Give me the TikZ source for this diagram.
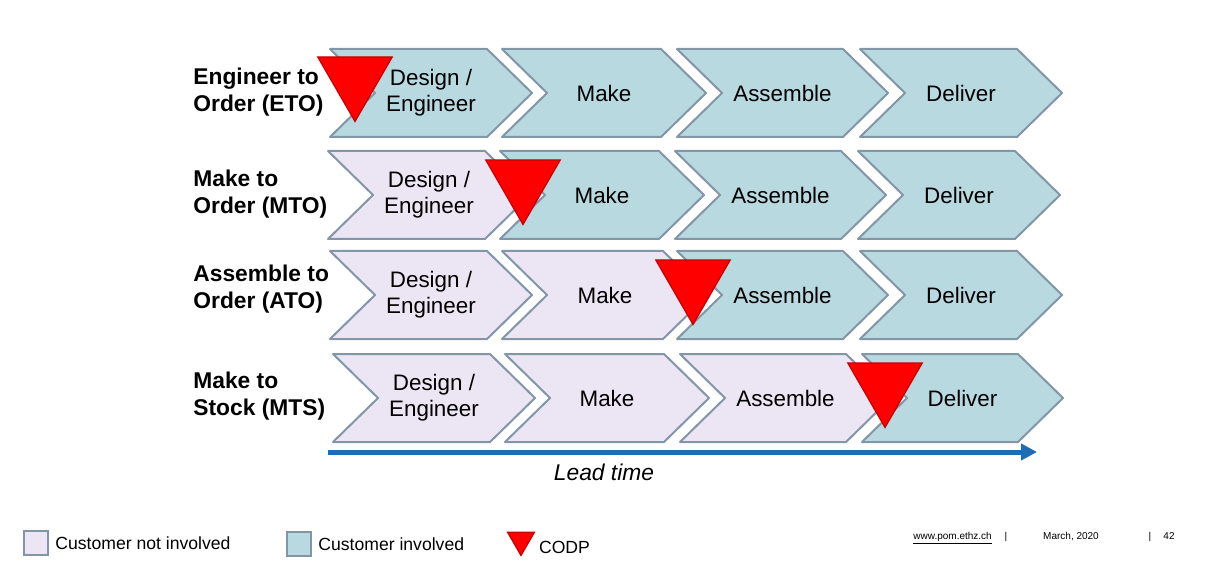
\documentclass[tikz,border=0pt]{standalone}
\usepackage{fontspec}
\setmainfont{Liberation Sans}
\usetikzlibrary{shapes.geometric, arrows.meta, positioning}
\definecolor{involvedblue}{RGB}{185,217,224}
\definecolor{notinvolved}{RGB}{235,229,244}
\definecolor{edgegray}{RGB}{130,150,168}
\definecolor{codpred}{RGB}{255,0,0}
\definecolor{codpedge}{RGB}{200,0,0}
\definecolor{leadblue}{RGB}{30,108,180}

% chevron: name, fill style, left x, middle y, width, text
\newcommand{\chevronstage}[6]{%
  \draw[#2] (#3,#4-44) -- ++(#5-45,0) -- ++(45,44) -- ++(-45,44) -- ++(-#5+45,0) -- ++(45,-44) -- cycle;
  \node[stagetext] (#1) at (#3+#5/2,#4) {#6};}

\begin{document}
\begin{tikzpicture}[x=0.5pt, y=-0.5pt,
    inv/.style={draw=edgegray, line width=1pt, line join=round, fill=involvedblue},
    notinv/.style={draw=edgegray, line width=1pt, line join=round, fill=notinvolved},
    stagetext/.style={inner sep=0pt, align=center, font=\fontsize{11.2}{13}\selectfont},
    codp/.style={regular polygon, regular polygon sides=3, shape border rotate=180,
                 fill=codpred, draw=codpedge, line width=0.6pt, minimum size=43pt, inner sep=0pt},
    strategy/.style={anchor=west, inner sep=0pt, align=left, font=\fontsize{11.4}{13.5}\selectfont\bfseries},
    legbox/.style={rectangle, draw=edgegray, line width=1pt, minimum size=12pt, inner sep=0pt},
    legtext/.style={inner sep=0pt, font=\fontsize{8.8}{10}\selectfont},
    foot/.style={anchor=base, inner sep=0pt, font=\fontsize{5}{6}\selectfont},
    leadarrow/.style={-{Triangle[length=8pt, width=8pt]}, line width=2.5pt, leadblue}]

    \useasboundingbox (0,0) rectangle (1215,561);

    % Engineer to Order
    \node[strategy] (eto) at (193,92) {Engineer to\\Order (ETO)};
    \chevronstage{etoDesign}{inv}{330}{93}{202}{Design /\\Engineer}
    \chevronstage{etoMake}{inv}{502}{93}{204}{Make}
    \chevronstage{etoAssemble}{inv}{677}{93}{211}{Assemble}
    \chevronstage{etoDeliver}{inv}{860}{93}{202}{Deliver}

    % Make to Order
    \node[strategy] (mto) at (193,194) {Make to\\Order (MTO)};
    \chevronstage{mtoDesign}{notinv}{328}{195}{202}{Design /\\Engineer}
    \chevronstage{mtoMake}{inv}{500}{195}{204}{Make}
    \chevronstage{mtoAssemble}{inv}{675}{195}{211}{Assemble}
    \chevronstage{mtoDeliver}{inv}{858}{195}{202}{Deliver}

    % Assemble to Order
    \node[strategy] (ato) at (193,289) {Assemble to\\Order (ATO)};
    \chevronstage{atoDesign}{notinv}{330}{295}{202}{Design /\\Engineer}
    \chevronstage{atoMake}{notinv}{502}{295}{206}{Make}
    \chevronstage{atoAssemble}{inv}{677}{295}{211}{Assemble}
    \chevronstage{atoDeliver}{inv}{860}{295}{202}{Deliver}

    % Make to Stock
    \node[strategy] (mts) at (193,396) {Make to\\Stock (MTS)};
    \chevronstage{mtsDesign}{notinv}{333}{398}{202}{Design /\\Engineer}
    \chevronstage{mtsMake}{notinv}{505}{398}{204}{Make}
    \chevronstage{mtsAssemble}{notinv}{680}{398}{211}{Assemble}
    \chevronstage{mtsDeliver}{inv}{862}{398}{201}{Deliver}

    % decoupling points
    \node[codp] (etoCodp) at (355,78.5) {};
    \node[codp] (mtoCodp) at (523,181.5) {};
    \node[codp] (atoCodp) at (693,281.5) {};
    \node[codp] (mtsCodp) at (885,384.5) {};

    % lead time
    \coordinate (leadStart) at (328,452);
    \coordinate (leadEnd) at (1037,452);
    \draw[leadarrow] (leadStart) -- (leadEnd);
    \node[font=\fontsize{11.4}{13}\selectfont\itshape] (lead) at (604,472) {Lead time};

    % legend
    \node[legbox, fill=notinvolved] (legNot) at (36,543) {};
    \node[legtext, right=3pt of legNot] (legNotText) {Customer not involved};
    \node[legbox, fill=involvedblue] (legInv) at (299,544) {};
    \node[legtext, right=3pt of legInv] (legInvText) {Customer involved};
    \node[codp, minimum size=15.5pt] (legCodp) at (521,540) {};
    \node[legtext, right=4pt of legCodp, yshift=-3.5pt] (legCodpText) {CODP};

    % footer
    \node[foot, anchor=base west] (url) at (913,539) {\underline{www.pom.ethz.ch}};
    \node[foot] (barA) at (1006,539) {|};
    \node[foot] (date) at (1071,539) {March, 2020};
    \node[foot] (barB) at (1150,539) {|};
    \node[foot] (page) at (1169,539) {42};
\end{tikzpicture}
\end{document}
